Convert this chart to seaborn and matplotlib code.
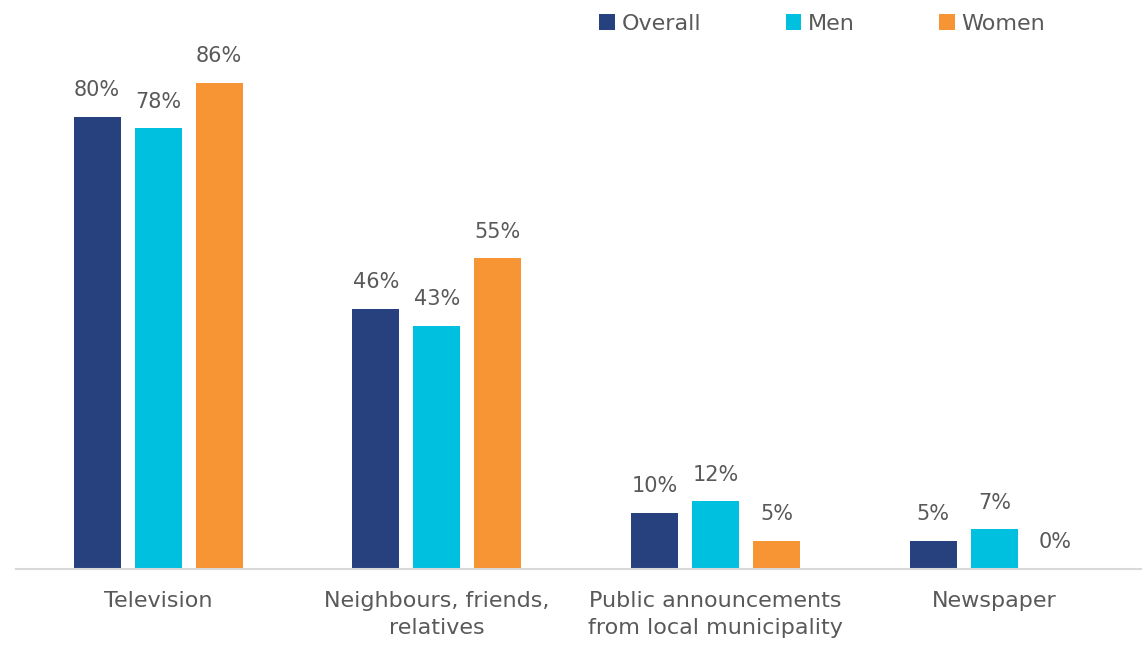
import pandas as pd
import seaborn as sns
import matplotlib.pyplot as plt

categories = ['Television', 'Neighbours, friends,\nrelatives',
              'Public announcements\nfrom local municipality', 'Newspaper']
groups = ['Overall', 'Men', 'Women']
overall = [80, 46, 10, 5]
men = [78, 43, 12, 7]
women = [86, 55, 5, 0]
cores = ['#27417F', '#00C0E0', '#F79433']

df = pd.DataFrame({
    'Categoria': categories * 3,
    'Grupo': [g for g in groups for _ in categories],
    'Valor': overall + men + women,
})

sns.set_theme(style='white')
plt.rcParams['font.family'] = ['DejaVu Sans']
cinza = '#595959'

fig = plt.figure(figsize=(11.42, 6.5), dpi=100)
ax = fig.add_axes([0.014, 0.1246, 0.986, 0.8754])

sns.barplot(data=df, x='Categoria', y='Valor', hue='Grupo', order=categories,
            hue_order=groups, palette=cores, width=0.657, gap=0.23,
            saturation=1, linewidth=0, ax=ax)

for cont in ax.containers:
    ax.bar_label(cont, labels=[f'{v:.0f}%' for v in cont.datavalues],
                 padding=12, fontsize=15, color=cinza)

ax.set_xlim(-0.51, 3.53)
ax.set_ylim(0, 100.7)
ax.set_xlabel('')
ax.set_ylabel('')
ax.set_yticks([])
ax.tick_params(axis='x', length=0, pad=16, labelsize=16, labelcolor=cinza)
for t in ax.get_xticklabels():
    t.set_linespacing(1.45)
for lado in ['top', 'right', 'left']:
    ax.spines[lado].set_visible(False)
ax.spines['bottom'].set_color('#D9D9D9')
ax.spines['bottom'].set_linewidth(1.5)

handles, labels = ax.get_legend_handles_labels()
ax.legend_.remove()
fig.legend(handles, labels, loc='center', bbox_to_anchor=(0.72, 0.963), ncol=3,
           frameon=False, fontsize=16, labelcolor=cinza, handlelength=0.7,
           handleheight=0.7, handletextpad=0.3, columnspacing=3.8)

fig.savefig('out.png', dpi=100)
plt.close()
